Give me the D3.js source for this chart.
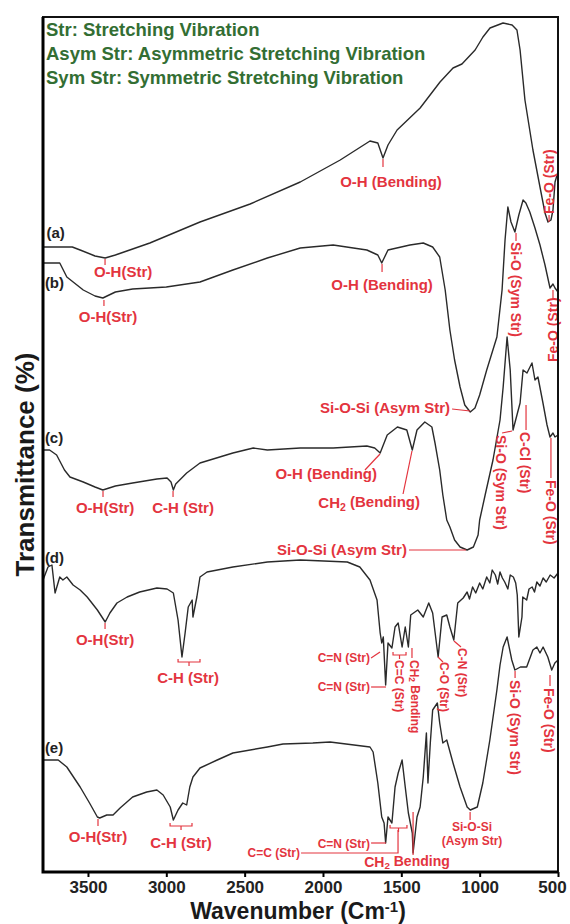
<!DOCTYPE html>
<html>
<head>
<meta charset="utf-8">
<script src="https://cdn.jsdelivr.net/npm/d3@7"></script>
<style>
body { margin: 0; background: #fff; }
svg { display: block; font-family: "Liberation Sans", Arial, sans-serif; }
</style>
</head>
<body>
<svg></svg>
<script>
const svgWidth = 570
const svgHeight = 924
const margins = { top: 17, bottom: 52, left: 43, right: 12 }
const plotWidth = svgWidth - margins.left - margins.right
const plotHeight = svgHeight - margins.top - margins.bottom

// FTIR spectra: [wavenumber (cm-1), transmittance (offset, a.u.)]
const specA = [[3787,125],[3600,125],[3550,124.4],[3455,123.2],[3390,122.8],[3325,123.4],[3105,125.8],[2785,130],[2465,133.6],[2145,138],[1890,142.4],[1700,146.2],[1650,145.8],[1617,142.8],[1585,145.4],[1527,148.4],[1380,152.8],[1253,158],[1170,160.8],[1113,161.6],[1029,164.4],[979,167],[934,168.8],[851,169.8],[793,169.4],[762,168.4],[742,164.4],[711,154.4],[660,144.4],[615,137],[583,131.8],[564,130],[545,130.4],[532,132.4],[519,138],[500,140]]
const specB = [[3787,121.8],[3680,121.8],[3635,119],[3530,116.4],[3455,115.2],[3405,114.8],[3325,116],[3215,116.6],[3000,117],[2785,118],[2575,120.4],[2355,122.8],[2145,124.8],[1935,125.4],[1720,124.4],[1650,123.4],[1625,121.8],[1585,124.4],[1445,125.4],[1360,125.8],[1300,125],[1255,123],[1220,116.4],[1190,108.4],[1160,102.4],[1125,97],[1095,93.4],[1060,92],[1030,92.8],[1000,95.4],[955,100.4],[890,107],[857,116.4],[838,126.4],[820,133],[800,130],[775,128],[750,131.4],[723,134.4],[705,133.8],[680,132],[647,128.8],[615,125.4],[583,121.4],[551,116.8],[532,117.6],[519,116.8],[500,116]]
const specC = [[3787,84.4],[3745,84.4],[3700,83.4],[3650,80.4],[3615,79],[3530,78],[3455,77],[3405,76.4],[3325,77.2],[3215,77.8],[3060,78.6],[2995,78.8],[2970,78],[2955,76.4],[2940,77.6],[2870,79.8],[2785,81.8],[2575,83.8],[2445,84.8],[2355,84.4],[2145,84.8],[1935,84.8],[1720,85.2],[1670,84.8],[1635,83.8],[1590,87.4],[1525,89],[1465,88.4],[1430,84.4],[1400,88.4],[1350,90],[1305,89],[1285,85.8],[1255,80.4],[1235,75.4],[1210,70.4],[1190,69],[1160,66.4],[1125,65],[1080,64.4],[1040,65],[1010,67.4],[1000,70.4],[965,75.4],[915,82.4],[870,90.4],[850,97],[825,107],[805,100.4],[787,88.4],[762,91.4],[742,93.8],[723,100.4],[698,99.8],[666,101.8],[647,98.4],[628,99],[596,93.8],[570,89.4],[551,87],[532,87.8],[519,87],[500,87.4]]
const specD = [[3787,58.4],[3755,61],[3730,61.4],[3710,55.8],[3680,59],[3660,58.4],[3635,59],[3595,57.4],[3550,56.4],[3505,55],[3440,52.4],[3390,50],[3360,51.8],[3315,53.8],[3250,55],[3170,56],[3060,56.8],[2995,56.6],[2955,55.8],[2925,50.4],[2900,43],[2880,47.8],[2860,53],[2835,54.4],[2830,51],[2805,55],[2785,59],[2740,60],[2575,61],[2355,62],[2145,62.4],[1845,62],[1765,61],[1700,58.4],[1655,54.4],[1635,47.8],[1625,45.8],[1615,47],[1600,37.4],[1585,45.8],[1560,44.8],[1540,49],[1520,49.8],[1495,45],[1475,49],[1455,45],[1440,51.4],[1395,52.4],[1360,51],[1325,53.8],[1300,51.8],[1265,43],[1240,51],[1210,51.4],[1190,49],[1165,46.4],[1140,53.8],[1105,54.8],[1080,56],[1065,54.6],[1045,57],[1025,55.8],[1000,57.8],[980,56.6],[955,59],[935,57.8],[920,60.4],[900,59.4],[885,57.6],[870,60],[855,58.8],[840,58],[820,56.6],[805,59.4],[785,59],[770,57.8],[760,55.4],[750,47],[730,51],[725,55],[700,54.4],[685,56.6],[665,57],[650,56],[635,58],[615,57.2],[595,58.8],[575,58],[550,59.4],[525,58.8],[500,59.8]]
const specE = [[3787,22.4],[3690,22.4],[3635,21],[3550,17],[3490,13.8],[3440,11],[3425,10.8],[3380,11.4],[3340,11.4],[3295,12.8],[3215,15],[3125,16],[3060,16.4],[3020,15.4],[2975,13],[2955,10.4],[2925,12.4],[2895,13.8],[2870,13.4],[2850,17],[2830,19],[2785,20.8],[2675,22.4],[2575,23.8],[2355,25],[2255,25.6],[2065,25.8],[1955,26],[1700,25],[1680,24],[1650,17.8],[1625,11],[1610,9.8],[1600,5.8],[1585,11],[1560,9.8],[1540,17],[1520,19.8],[1495,22.4],[1475,17],[1455,11.8],[1430,7.8],[1425,3.8],[1400,11],[1380,13],[1360,19],[1340,27.8],[1330,17.8],[1315,25.8],[1300,32.4],[1270,33.8],[1255,29.8],[1235,25.8],[1210,26.4],[1170,21.8],[1125,17],[1080,13],[1060,12.4],[1015,13],[980,17.8],[935,26.4],[890,36.4],[870,41.4],[850,45],[825,47],[795,42.4],[775,40.4],[740,41],[700,41],[660,44.4],[635,45],[615,43.8],[595,45],[565,43],[540,40.4],[520,41.8],[500,42.4]]
const spectra = [specA, specB, specC, specD, specE]

const sampleNames = ["(a)", "(b)", "(c)", "(d)", "(e)"]
const xTicks = [3500, 3000, 2500, 2000, 1500, 1000, 500]
const legendLines = ["Str: Stretching Vibration", "Asym Str: Asymmetric Stretching Vibration", "Sym Str: Symmetric Stretching Vibration"]

// annotations: text, wavenumber, value, anchor, rotation, font size
const notes = [
    ["O-H(Str)", 3276, 119, "middle", 0, 15],
    ["O-H(Str)", 3372, 110, "middle", 0, 15],
    ["O-H (Bending)", 1566, 137, "middle", 0, 15],
    ["O-H (Bending)", 1623, 116.4, "middle", 0, 15],
    ["Si-O-Si (Asym Str)", 1189, 91.8, "end", 0, 15],
    ["O-H(Str)", 3391, 71.8, "middle", 0, 15],
    ["C-H (Str)", 2893, 71.8, "middle", 0, 15],
    ["O-H (Bending)", 1655, 78.6, "end", 0, 15],
    ["CH2 (Bending)", 1381, 72.8, "end", 0, 15],
    ["Si-O-Si (Asym Str)", 1464, 63.4, "end", 0, 15],
    ["O-H(Str)", 3391, 45.4, "middle", 0, 15],
    ["C-H (Str)", 2861, 37.8, "middle", 0, 15],
    ["C=N (Str)", 1700, 42, "end", 0, 12],
    ["C=N (Str)", 1700, 36.2, "end", 0, 12],
    ["C=C (Str)", 1515, 42.4, "start", 90, 12],
    ["CH2 Bending", 1419, 42.4, "start", 90, 12],
    ["C-O (Str)", 1228, 42, "start", 90, 12],
    ["C-N (Str)", 1113, 44.8, "start", 90, 12],
    ["Si-O (Sym Str)", 774, 38.4, "start", 90, 14],
    ["Fe-O (Str)", 557, 36.8, "start", 90, 14],
    ["O-H(Str)", 3436, 6, "middle", 0, 15],
    ["C-H (Str)", 2906, 4.8, "middle", 0, 15],
    ["C=N (Str)", 1700, 4.8, "end", 0, 12],
    ["C=C (Str)", 2147, 3, "end", 0, 12],
    ["CH2 Bending", 1464, 1, "middle", 0, 14],
    ["Si-O-Si", 1049, 8.2, "middle", 0, 12],
    ["(Asym Str)", 1049, 5.4, "middle", 0, 12],
    ["Fe-O (Str)", 557, 131.6, "start", -90, 14],
    ["Si-O (Sym Str)", 768, 126, "start", 90, 14],
    ["Fe-O (Str)", 532, 102, "start", -90, 14],
    ["Si-O (Sym Str)", 864, 87.4, "start", 90, 14],
    ["C-Cl (Str)", 710, 88, "start", 90, 14],
    ["Fe-O (Str)", 545, 78.4, "start", 90, 14]
]
const leaders = [
    [[3391,122.6],[3391,121.4]], [[3398,114.4],[3398,113.2]],
    [[1617,142.6],[1617,141]], [[1623,121.6],[1623,120]],
    [[1176,92.6],[1061,92.2]], [[3404,76.2],[3404,75]], [[2957,76.2],[2957,75]],
    [[1732,80.4],[1636,83.6]], [[1489,75.6],[1432,84.2]], [[1451,64.4],[1087,64.4]],
    [[3391,49.8],[3391,48.6]], [[1693,42.8],[1636,44]], [[1693,37],[1598,37]],
    [[1432,44.8],[1432,42.8]], [[1266,43],[1234,42]], [[1164,46.2],[1119,45]],
    [[774,40.2],[774,38.8]], [[551,39.4],[551,37.2]], [[3436,10.6],[3436,9.2]],
    [[1693,5.8],[1598,5.8]], [[2140,3.8],[1521,3.8],[1521,8.4]], [[1425,3.4],[1425,12]],
    [[1061,12],[1061,10.4]], [[557,130],[557,131.4]], [[768,127.8],[768,126.2]],
    [[532,116.4],[532,114.6]], [[793,88.2],[857,87.8]], [[704,93.4],[704,88.4]], [[545,86.8],[545,78.8]]
]
const brackets = [[2925, 2785, 42], [1553, 1470, 43.4], [2976, 2836, 9.2], [1572, 1464, 8.8]]
const namePos = [[3765, 126.8], [3775, 116.8], [3775, 85.8], [3775, 61.8], [3775, 23.8]]

const red = "#e3343e"

const svg = d3.select("svg")
    .attr("width", svgWidth)
    .attr("height", svgHeight)

const xScale = d3.scaleLinear().domain([3787, 500]).range([0, plotWidth])
const yScale = d3.scaleLinear().domain([0, 171]).range([plotHeight, 0])

const plot = svg.append("g")
    .attr("transform", `translate(${margins.left},${margins.top})`)

// x axis
const xAxis = plot.append("g")
    .attr("transform", `translate(0,${plotHeight})`)
    .call(d3.axisBottom(xScale).tickValues(xTicks).tickFormat(d3.format("d")).tickSizeInner(5).tickSizeOuter(0).tickPadding(4))
xAxis.select(".domain").remove()
xAxis.selectAll("line").attr("stroke", "#000").attr("stroke-width", 2)
xAxis.selectAll("text")
    .attr("font-size", 17)
    .attr("font-weight", "bold")
    .attr("font-family", "Liberation Sans, Arial, sans-serif")
    .attr("fill", "#222")
    .attr("dx", (d) => d === 500 ? -6 : 0)

// spectra
const line = d3.line()
    .x((d) => xScale(d[0]))
    .y((d) => yScale(d[1]))

plot.selectAll(".spec")
    .data(spectra)
    .join("path")
    .attr("class", "spec")
    .attr("d", line)
    .attr("fill", "none")
    .attr("stroke", "#2a2a2a")
    .attr("stroke-width", 1.4)
    .attr("stroke-linejoin", "round")

// sample names
plot.selectAll(".name")
    .data(sampleNames)
    .join("text")
    .attr("class", "name")
    .text((d) => d)
    .attr("x", (d, i) => xScale(namePos[i][0]))
    .attr("y", (d, i) => yScale(namePos[i][1]))
    .attr("font-size", 15)
    .attr("font-weight", "bold")
    .attr("fill", "#222")

// leader lines and brackets
plot.selectAll(".leader")
    .data(leaders)
    .join("path")
    .attr("class", "leader")
    .attr("d", line)
    .attr("fill", "none")
    .attr("stroke", red)
    .attr("stroke-width", 1.2)

plot.selectAll(".bracket")
    .data(brackets)
    .join("path")
    .attr("d", (d) => {
        const x1 = xScale(d[0]), x2 = xScale(d[1]), y = yScale(d[2]), xm = (x1 + x2) / 2
        return `M${x1},${y - 3}L${x1},${y}L${x2},${y}L${x2},${y - 3}M${xm},${y}L${xm},${y + 4}`
    })
    .attr("fill", "none")
    .attr("stroke", red)
    .attr("stroke-width", 1.2)

// red labels
const noteText = plot.selectAll(".note")
    .data(notes)
    .join("text")
    .attr("class", "note")
    .attr("transform", (d) => `translate(${xScale(d[1])},${yScale(d[2])}) rotate(${d[4]})`)
    .attr("text-anchor", (d) => d[3])
    .attr("dominant-baseline", (d) => d[4] === 0 ? "auto" : "central")
    .attr("font-size", (d) => d[5])
    .attr("font-weight", "bold")
    .attr("fill", red)

noteText.each(function (d) {
    const t = d3.select(this)
    if (d[0].startsWith("CH2")) {
        t.append("tspan").text("CH")
        t.append("tspan").text("2").attr("font-size", "70%").attr("dy", "0.25em")
        t.append("tspan").text(d[0].slice(3)).attr("dy", "-0.25em")
    } else {
        t.text(d[0])
    }
})

// frame
plot.append("rect")
    .attr("width", plotWidth)
    .attr("height", plotHeight)
    .attr("fill", "none")
    .attr("stroke", "#111")
    .attr("stroke-width", 2)
plot.append("path")
    .attr("d", `M0,0V${plotHeight}H${plotWidth}`)
    .attr("fill", "none")
    .attr("stroke", "#000")
    .attr("stroke-width", 3)

// legend
plot.selectAll(".legend")
    .data(legendLines)
    .join("text")
    .attr("class", "legend")
    .text((d) => d)
    .attr("x", 3)
    .attr("y", (d, i) => 19 + i * 24)
    .attr("font-size", 18.5)
    .attr("font-weight", "bold")
    .attr("fill", "#336e33")

// axis titles
svg.append("text")
    .attr("transform", `translate(34,${margins.top + plotHeight / 2 + 20}) rotate(-90)`)
    .attr("text-anchor", "middle")
    .attr("font-size", 26)
    .attr("font-weight", "bold")
    .attr("fill", "#1a1a1a")
    .text("Transmittance (%)")

const xTitle = svg.append("text")
    .attr("x", 298)
    .attr("y", 919)
    .attr("text-anchor", "middle")
    .attr("font-size", 23)
    .attr("font-weight", "bold")
    .attr("fill", "#1a1a1a")
xTitle.append("tspan").text("Wavenumber (Cm")
xTitle.append("tspan").text("-1").attr("font-size", "65%").attr("dy", "-0.5em")
xTitle.append("tspan").text(")").attr("dy", "0.325em")
</script>
</body>
</html>
